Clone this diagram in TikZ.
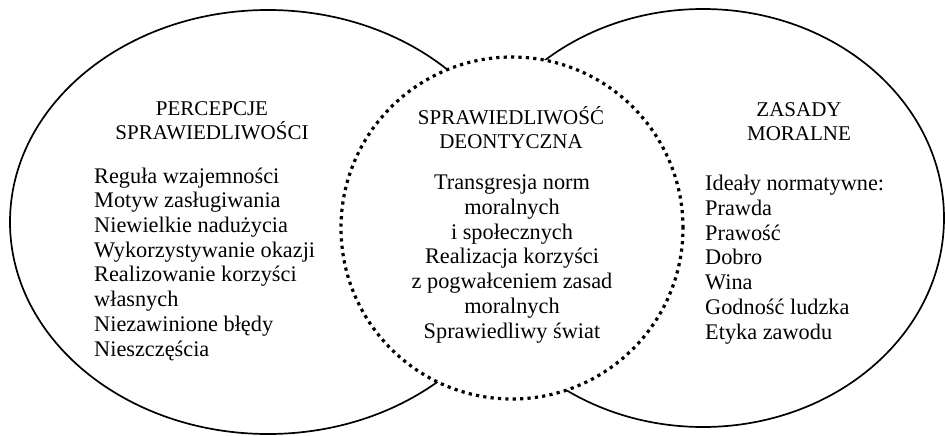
\documentclass[tikz,border=0pt]{standalone}
\usepackage{fontspec}
\setmainfont{Liberation Serif}
\usetikzlibrary{shapes.geometric}
\begin{document}
\begin{tikzpicture}[x=1pt,y=-1pt,
  outerset/.style={ellipse, draw=black, line width=1.7pt, inner sep=0},
  coreset/.style={circle, draw=black, fill=white, line width=3.2pt,
    dash pattern=on 3.2pt off 4.2pt, inner sep=0, minimum size=342},
  headtxt/.style={font=\fontsize{21}{23.5}\selectfont, align=center, inner sep=0},
  bodytxt/.style={font=\fontsize{22.3}{24.7}\selectfont, inner sep=0}]
\useasboundingbox (0,0) rectangle (945,436);

% outer sets
\node[outerset, minimum width=516, minimum height=424] (perc) at (268,222) {};
\node[outerset, minimum width=482, minimum height=418] (moral) at (703,218) {};
% central set drawn on top
\node[coreset] (deon) at (512,228) {};

% multi-line labels are placed by the baseline of their last line
% left set
\node[headtxt, anchor=base] (percH) at (212,139)
  {PERCEPCJE\\SPRAWIEDLIWOŚCI};
\node[bodytxt, align=left, anchor=base west] (percB) at (94,356)
  {Reguła wzajemności\\Motyw zasługiwania\\Niewielkie nadużycia\\Wykorzystywanie okazji\\Realizowanie korzyści\\własnych\\Niezawinione błędy\\Nieszczęścia};

% central set
\node[headtxt, anchor=base] (deonH) at (511,148)
  {SPRAWIEDLIWOŚĆ\\DEONTYCZNA};
\node[bodytxt, align=center, anchor=base] (deonB) at (512,338)
  {Transgresja norm\\moralnych\\i społecznych\\Realizacja korzyści\\z pogwałceniem zasad\\moralnych\\Sprawiedliwy świat};

% right set
\node[headtxt, anchor=base] (moralH) at (799,140)
  {ZASADY\\MORALNE};
\node[bodytxt, align=left, anchor=base west] (moralB) at (705,339)
  {Ideały normatywne:\\Prawda\\Prawość\\Dobro\\Wina\\Godność ludzka\\Etyka zawodu};
\end{tikzpicture}
\end{document}
